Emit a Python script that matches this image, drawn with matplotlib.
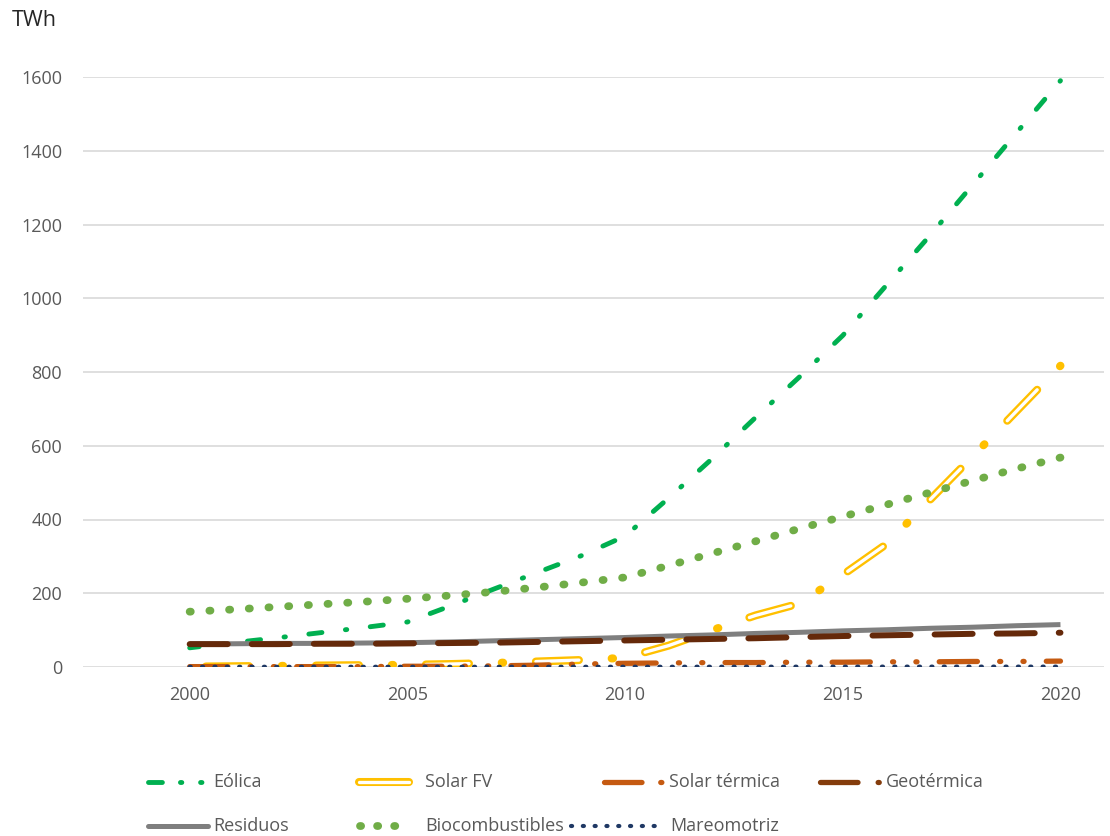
import matplotlib
matplotlib.use("Agg")
import numpy as np
import matplotlib.pyplot as plt
from matplotlib.lines import Line2D

plt.rcParams['font.family'] = ['Open Sans', 'DejaVu Sans']
plt.rcParams['lines.scale_dashes'] = False

# datos (TWh)
anios = [2000, 2001, 2002, 2003, 2004, 2005, 2006, 2007, 2008, 2009, 2010,
         2011, 2012, 2013, 2014, 2015, 2016, 2017, 2018, 2019, 2020]
eolica = [52, 66, 79, 93, 107, 122, 166, 212, 257, 302, 355,
          458, 565, 677, 786, 899, 1035, 1170, 1310, 1450, 1590]
solar_fv = [1, 2, 3, 4, 5, 6, 8, 11, 15, 19, 25,
            58, 100, 140, 172, 250, 333, 453, 573, 695, 817]
solar_termica = [1, 1, 1, 1, 1, 2, 2, 3, 5, 8, 10,
                 11, 12, 12, 13, 13, 14, 14, 15, 15, 16]
geotermica = [62, 62, 62, 63, 63, 64, 65, 66, 68, 70, 72,
              74, 76, 78, 81, 84, 86, 88, 90, 91, 93]
residuos = [63, 63, 64, 64, 65, 66, 68, 71, 74, 77, 80,
            84, 87, 91, 94, 98, 101, 105, 108, 112, 115]
biocombustibles = [150, 156, 163, 170, 177, 185, 194, 204, 216, 229, 243,
                   275, 308, 341, 375, 408, 440, 473, 506, 538, 568]
mareomotriz = [0.6, 0.6, 0.6, 0.6, 0.6, 0.6, 0.6, 0.6, 0.6, 0.6, 0.7,
               0.7, 0.8, 0.8, 0.9, 0.9, 1.0, 1.0, 1.0, 1.0, 1.0]

x_ticks = [2000, 2005, 2010, 2015, 2020]
y_ticks = [0, 200, 400, 600, 800, 1000, 1200, 1400, 1600]

c_eol = '#00B050'
c_fv = '#FFC000'
c_st = '#C55A11'
c_geo = '#65290A'
c_res = '#7F7F7F'
c_bio = '#70AD47'
c_mar = '#1F3864'

W, H = 1110, 836
fig = plt.figure(figsize=(W / 100, H / 100), dpi=100)
ax = fig.add_axes([83 / W, 1 - 667 / H, (1104 - 83) / W, (667 - 77) / H])
ax.set_xlim(1997.55, 2021.0)
ax.set_ylim(0, 1600)


def largo_pt(xs, ys):
    # longitud de la linea en puntos, para que el patron acabe en un punto en 2020
    p = ax.transData.transform(np.column_stack([xs, ys]))
    return np.hypot(*np.diff(p, axis=0).T).sum() * 72 / fig.dpi


def fase(xs, ys, periodo, centro_punto):
    return (centro_punto - largo_pt(xs, ys)) % periodo


# estilos de linea (en puntos)
eol_seq = (9.5, 17, 1, 17)
fv_seq = (31, 23.6, 1, 23.6)
o_eol = fase(anios, eolica, sum(eol_seq), 9.5 + 17 + 0.5)
o_fv = fase(anios, solar_fv, sum(fv_seq), 31 + 23.6 + 0.5)

ax.plot(anios, eolica, color=c_eol, lw=3.5, ls=(o_eol, eol_seq), dash_capstyle='round', zorder=3)
ax.plot(anios, solar_fv, color=c_fv, lw=5.8, ls=(o_fv, fv_seq), dash_capstyle='round', zorder=3.1)
ax.plot(anios, solar_fv, color='white', lw=2.4, ls=(o_fv, (31, 48.2)), dash_capstyle='round', zorder=3.15)
ax.plot(anios, residuos, color=c_res, lw=3.6, solid_capstyle='butt', zorder=3.2)
ax.plot(anios, biocombustibles, color=c_bio, lw=5.6, ls=(0, (0.8, 13.4)), dash_capstyle='round', zorder=3.3)
ax.plot(anios, solar_termica, color=c_st, lw=3.8, ls=(0, (27.5, 16, 0.8, 16, 0.8, 16)),
        dash_capstyle='round', zorder=3.4)
ax.plot(anios, geotermica, color=c_geo, lw=4.3, ls=(0, (27.4, 17.3)), dash_capstyle='round', zorder=3.5)
ax.plot(anios, mareomotriz, color=c_mar, lw=3.0, ls=(0, (0.8, 8.1)), dash_capstyle='round', zorder=3.6)

ax.set_xticks(x_ticks)
ax.set_yticks(y_ticks)
ax.tick_params(axis='both', length=0, labelsize=13, labelcolor='#595959')
ax.tick_params(axis='y', pad=15)
ax.tick_params(axis='x', pad=14)
ax.grid(axis='y', color='#D9D9D9', lw=1.2)
ax.set_axisbelow(True)
for s in ax.spines.values():
    s.set_visible(False)

fig.text(12 / W, 1 - 21 / H, 'TWh', fontsize=15.5, color='#262626', va='center', ha='left')


# leyenda construida a mano
def fx(px):
    return px / W


def fy(py):
    return 1 - py / H


def handle(x0, x1, y, **kw):
    fig.add_artist(Line2D([fx(x0), fx(x1)], [fy(y), fy(y)], transform=fig.transFigure, **kw))


def label(x, y, txt):
    fig.text(fx(x), fy(y), txt, fontsize=13, color='#595959', va='center', ha='left')


r1, r2 = 782, 826
handle(148, 208, r1, color=c_eol, lw=3.5, ls=(0, (10, 13, 1, 13.5, 1, 20)), dash_capstyle='round')
label(213, r1, 'Eólica')
handle(359, 409, r1, color=c_fv, lw=5.8, solid_capstyle='round')
handle(359, 409, r1, color='white', lw=2.4, solid_capstyle='round')
label(425, r1, 'Solar FV')
handle(604, 662, r1, color=c_st, lw=3.8, ls=(0, (27, 13.5, 0.8, 30)), dash_capstyle='round')
label(669, r1, 'Solar térmica')
handle(820, 880, r1, color='#843C0C', lw=3.8, ls=(0, (27, 14.5, 0.8, 30)), dash_capstyle='round')
label(886, r1, 'Geotérmica')
handle(148, 208, r2, color=c_res, lw=3.6, solid_capstyle='round')
label(213, r2, 'Residuos')
handle(360, 410, r2, color=c_bio, lw=5.6, ls=(0, (0.8, 11.5)), dash_capstyle='round')
label(425, r2, 'Biocombustibles')
handle(571, 665, r2, color=c_mar, lw=3.0, ls=(0, (0.8, 7.7)), dash_capstyle='round')
label(670, r2, 'Mareomotriz')

fig.savefig('out.png', dpi=100)
